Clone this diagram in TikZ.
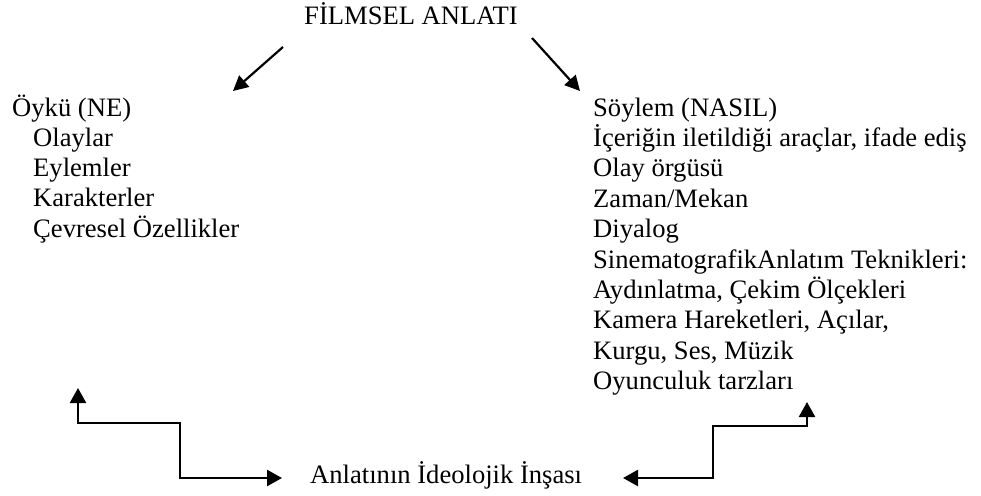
\documentclass[tikz,border=0pt]{standalone}
\usepackage{fontspec}
\setmainfont{Liberation Serif}
\usetikzlibrary{arrows.meta}
\begin{document}
\begin{tikzpicture}[x=1pt,y=-1pt,
  txt/.style={anchor=base west,inner sep=0pt,font=\fontsize{26.6}{30}\selectfont},
  arr/.style={line width=2.2pt,-{Triangle[length=15pt,width=15pt]}},
  darr/.style={line width=2.4pt,{Triangle[length=15pt,width=16pt]}-{Triangle[length=15pt,width=16pt]}}]
\useasboundingbox (0,0) rectangle (981,495);
% title
\node[txt,anchor=base] (title) at (411,25) {FİLMSEL ANLATI};
% left column
\node[txt] (oyku) at (12,116) {Öykü (NE)};
\foreach \t [count=\i] in {Olaylar,Eylemler,Karakterler,Çevresel Özellikler}
  \node[txt] (l\i) at (33,{116+30.3*\i}) {\t};
% right column
\foreach \t [count=\i from 0] in {{Söylem (NASIL)},{İçeriğin iletildiği araçlar, ifade ediş},{Olay örgüsü},{Zaman/Mekan},{Diyalog},{SinematografikAnlatım Teknikleri:},{Aydınlatma, Çekim Ölçekleri},{Kamera Hareketleri, Açılar,},{Kurgu, Ses, Müzik},{Oyunculuk tarzları}}
  \node[txt] (r\i) at (593,{116+30.4*\i}) {\t};
% bottom
\node[txt] (ideo) at (310,483) {Anlatının İdeolojik İnşası};
% diagonal arrows
\coordinate (a1s) at (283,47);
\coordinate (a1e) at (233,91);
\coordinate (a2s) at (532,38);
\coordinate (a2e) at (580,91);
\draw[arr] (a1s) -- (a1e);
\draw[arr] (a2s) -- (a2e);
% bottom connectors
\coordinate (lt) at (78,388);
\coordinate (le) at (282,478);
\coordinate (rt) at (807,402);
\coordinate (re) at (623,478);
\draw[darr] (lt) -- (78,423) -- (180,423) |- (le);
\draw[darr] (rt) -- (807,426) -- (713,426) |- (re);
\end{tikzpicture}
\end{document}
